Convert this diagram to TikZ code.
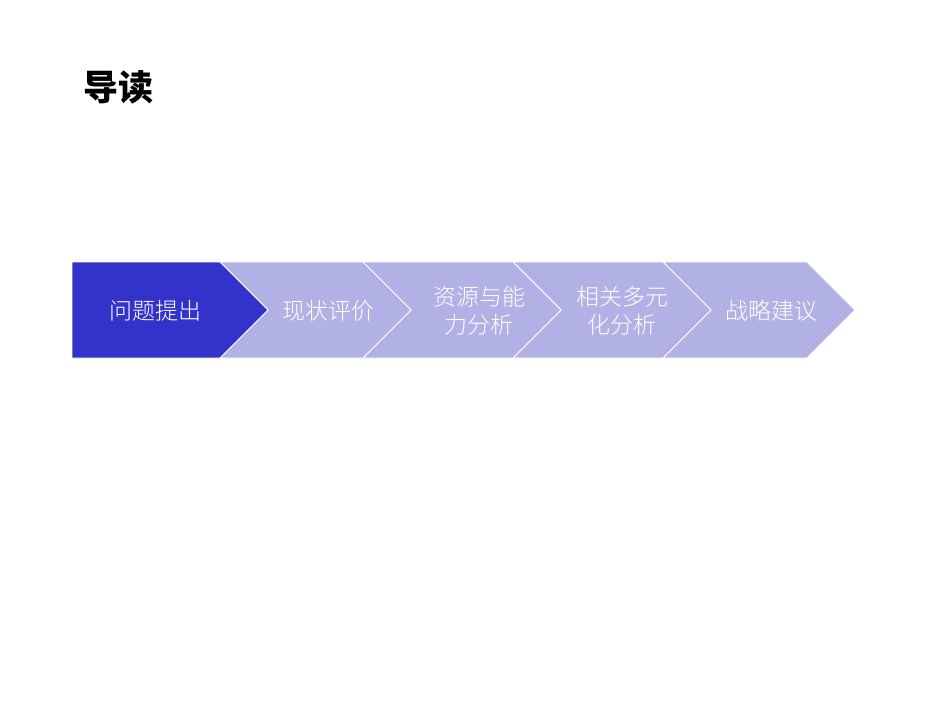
\documentclass[tikz,border=0pt]{standalone}
\usepackage{fontspec}
\newfontfamily\cjk{Noto Sans CJK SC}
\newfontfamily\cjklight{Noto Sans CJK SC Light}
\definecolor{darkchev}{HTML}{3333CC}
\definecolor{lightchev}{HTML}{B1B1E6}
\begin{document}
\begin{tikzpicture}[x=1pt,y=-1pt,
  chev/.style={draw=white,line width=0.8pt,line join=miter},
  lbl/.style={text=white,font=\cjklight\fontsize{23}{28}\selectfont,align=center,inner sep=0pt}]
\useasboundingbox (0,0) rectangle (950,713);
\fill[white] (0,0) rectangle (950,713);
\node[font=\cjk\bfseries\fontsize{35}{40}\selectfont,anchor=center,inner sep=0pt] (title) at (118,87) {导读};
% chevrons
\fill[lightchev,chev] (663,262) -- (807,262) -- (855,310) -- (807,358) -- (663,358) -- (711,310) -- cycle;
\fill[lightchev,chev] (513,262) -- (663,262) -- (711,310) -- (663,358) -- (513,358) -- (561,310) -- cycle;
\fill[lightchev,chev] (363,262) -- (513,262) -- (561,310) -- (513,358) -- (363,358) -- (411,310) -- cycle;
\fill[lightchev,chev] (220,262) -- (363,262) -- (411,310) -- (363,358) -- (220,358) -- (268,310) -- cycle;
\fill[darkchev,chev] (72,262) -- (220,262) -- (268,310) -- (220,358) -- (72,358) -- cycle;
\node[lbl] (s1) at (155,311) {问题提出};
\node[lbl] (s2) at (328,311) {现状评价};
\node[lbl] (s3) at (479,311) {资源与能\\力分析};
\node[lbl] (s4) at (622,311) {相关多元\\化分析};
\node[lbl] (s5) at (771,311) {战略建议};
\end{tikzpicture}
\end{document}
